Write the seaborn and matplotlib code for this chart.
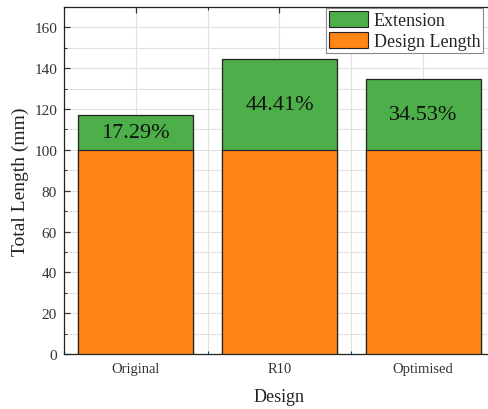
#graphique de la longueur totale des designs (longueur design + extension)
import pandas as pd
import matplotlib.pyplot as plt
import seaborn as sns
from matplotlib.patches import Patch
from matplotlib.ticker import MultipleLocator

designs = ['Original', 'R10', 'Optimised']  # categories de l'axe x
design_length = [100, 100, 100]  # longueur design (mm)
extension = [17.29, 44.41, 34.53]  # extension (mm)
pct_labels = ['17.29%', '44.41%', '34.53%']  # textes dans les barres

data = pd.DataFrame({'Design': designs, 'Design Length': design_length, 'Extension': extension})
data['Total'] = data['Design Length'] + data['Extension']  # hauteur totale de la barre empilee

green = '#4DAF4A'
orange = '#FF8517'

sns.set_style('ticks')
plt.rcParams['font.family'] = ['Liberation Serif', 'DejaVu Serif']
plt.rcParams['xtick.direction'] = 'in'
plt.rcParams['ytick.direction'] = 'in'

fig = plt.figure(figsize=(4.89, 4.10), dpi=100)
ax = fig.add_axes([64 / 489, 55 / 410, 431 / 489, 347 / 410])  # bord droit coupe comme dans l'image

# barre totale (verte) puis la longueur design (orange) par dessus
sns.barplot(data=data, x='Design', y='Total', color=green, width=0.8,
            edgecolor='#222222', linewidth=0.9, saturation=1, ax=ax, zorder=2)
sns.barplot(data=data, x='Design', y='Design Length', color=orange, width=0.8,
            edgecolor='#222222', linewidth=0.9, saturation=1, ax=ax, zorder=3)

# pourcentages au centre de l'extension
for i, row in data.iterrows():
    ax.text(i, row['Design Length'] + row['Extension'] / 2, pct_labels[i],
            ha='center', va='center', fontsize=16, color='#111111', zorder=4)

ax.set_xlim(-0.5, 2.5)
ax.set_ylim(0, 170)
ax.yaxis.set_major_locator(MultipleLocator(20))
ax.yaxis.set_minor_locator(MultipleLocator(10))
ax.xaxis.set_minor_locator(MultipleLocator(0.5))
ax.grid(True, which='both', color='#e0e0e0', linewidth=0.8, zorder=0)
ax.set_axisbelow(True)
ax.tick_params(which='both', top=True, right=True, colors='#333333')
ax.tick_params(axis='y', labelsize=11, pad=5)
ax.tick_params(axis='x', labelsize=10.5, pad=6)
ax.tick_params(which='major', length=4, width=0.9)
ax.tick_params(which='minor', length=2.5, width=0.8)
for s in ax.spines.values():
    s.set_color('#222222')
    s.set_linewidth(0.9)

ax.set_xlabel('Design', fontsize=13, color='#222222', labelpad=9)
ax.set_ylabel('Total Length (mm)', fontsize=14, color='#222222', labelpad=4)

handles = [Patch(facecolor=green, edgecolor='#222222', linewidth=0.8, label='Extension'),
           Patch(facecolor=orange, edgecolor='#222222', linewidth=0.8, label='Design Length')]
leg = ax.legend(handles=handles, loc='upper right', bbox_to_anchor=(483 / 489, 1 - 9 / 410),
                bbox_transform=fig.transFigure, borderaxespad=0, fontsize=13, fancybox=False,
                framealpha=1, edgecolor='#888888', borderpad=0.15, labelspacing=0.15,
                handlelength=2.2, handleheight=1.0, handletextpad=0.3)
leg.get_frame().set_linewidth(0.8)
leg.set_zorder(5)

fig.savefig('out.png', dpi=100)
